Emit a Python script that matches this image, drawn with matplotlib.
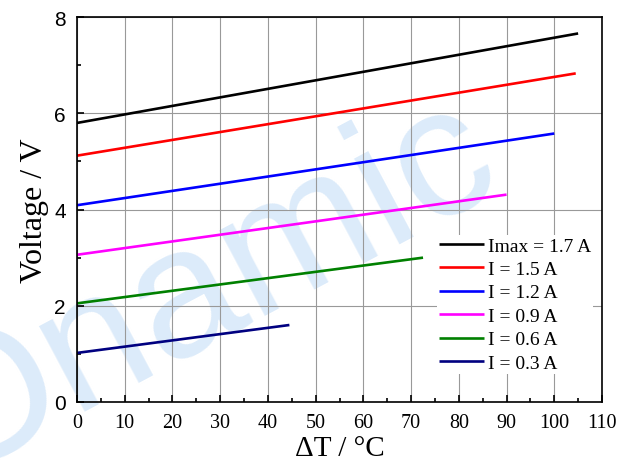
import matplotlib
matplotlib.use('Agg')
import matplotlib.pyplot as plt
from matplotlib.ticker import MultipleLocator

# 电压 vs 温差，不同电流
dT_end = [105.0, 104.5, 100.0, 90.0, 72.5, 44.5]
v_start = [5.80, 5.12, 4.09, 3.06, 2.05, 1.02]
v_end = [7.66, 6.83, 5.58, 4.31, 3.00, 1.60]
labels = ['Imax = 1.7 A', 'I = 1.5 A', 'I = 1.2 A', 'I = 0.9 A', 'I = 0.6 A', 'I = 0.3 A']
colors = ['black', 'red', 'blue', 'magenta', 'green', 'navy']

serif = ['Liberation Serif', 'DejaVu Serif']
sans = ['Liberation Sans', 'DejaVu Sans']

fig = plt.figure(figsize=(6.34, 4.64), dpi=100)
ax = fig.add_axes([0.1215, 0.1315, 0.828, 0.8295])
ax.patch.set_alpha(0)

# 水印
fig.text(0.322, 0.375, 'Onamic', fontsize=132, family=sans, color='#dcebfa',
         rotation=28, ha='center', va='center', zorder=-1)

for x1, y0, y1, lab, c in zip(dT_end, v_start, v_end, labels, colors):
    ax.plot([0, x1], [y0, y1], color=c, lw=1.9, label=lab, solid_capstyle='butt')

ax.set_xlim(0, 110)
ax.set_ylim(0, 8)
ax.xaxis.set_major_locator(MultipleLocator(10))
ax.xaxis.set_minor_locator(MultipleLocator(5))
ax.yaxis.set_major_locator(MultipleLocator(2))
ax.yaxis.set_minor_locator(MultipleLocator(1))
ax.grid(True, which='major', color='#999999', lw=0.8)
ax.set_axisbelow(True)
ax.tick_params(which='both', direction='in', top=False, right=False, width=1.2)
ax.tick_params(which='major', length=5)
ax.tick_params(which='minor', length=3)
ax.tick_params(axis='x', pad=8)
ax.tick_params(axis='y', pad=8)
for s in ax.spines.values():
    s.set_linewidth(1.2)

for t in ax.get_xticklabels():
    t.set_fontfamily(serif)
    t.set_fontsize(14.5)
for t in ax.get_yticklabels():
    t.set_fontfamily(sans)
    t.set_fontsize(15)

ax.set_xlabel('ΔT / °C', fontsize=21, family=serif, labelpad=2)
ax.set_ylabel('Voltage / V', fontsize=23, family=serif, labelpad=4)

leg = ax.legend(loc='upper left', bbox_to_anchor=(437 / 634, 1 - 236 / 464),
                bbox_transform=fig.transFigure, prop={'family': serif, 'size': 14},
                frameon=True, facecolor='white', edgecolor='none', framealpha=1,
                fancybox=False, borderpad=0.1, borderaxespad=0, labelspacing=0.3,
                handlelength=2.3, handletextpad=0.2)

fig.savefig('out.png', dpi=100)
